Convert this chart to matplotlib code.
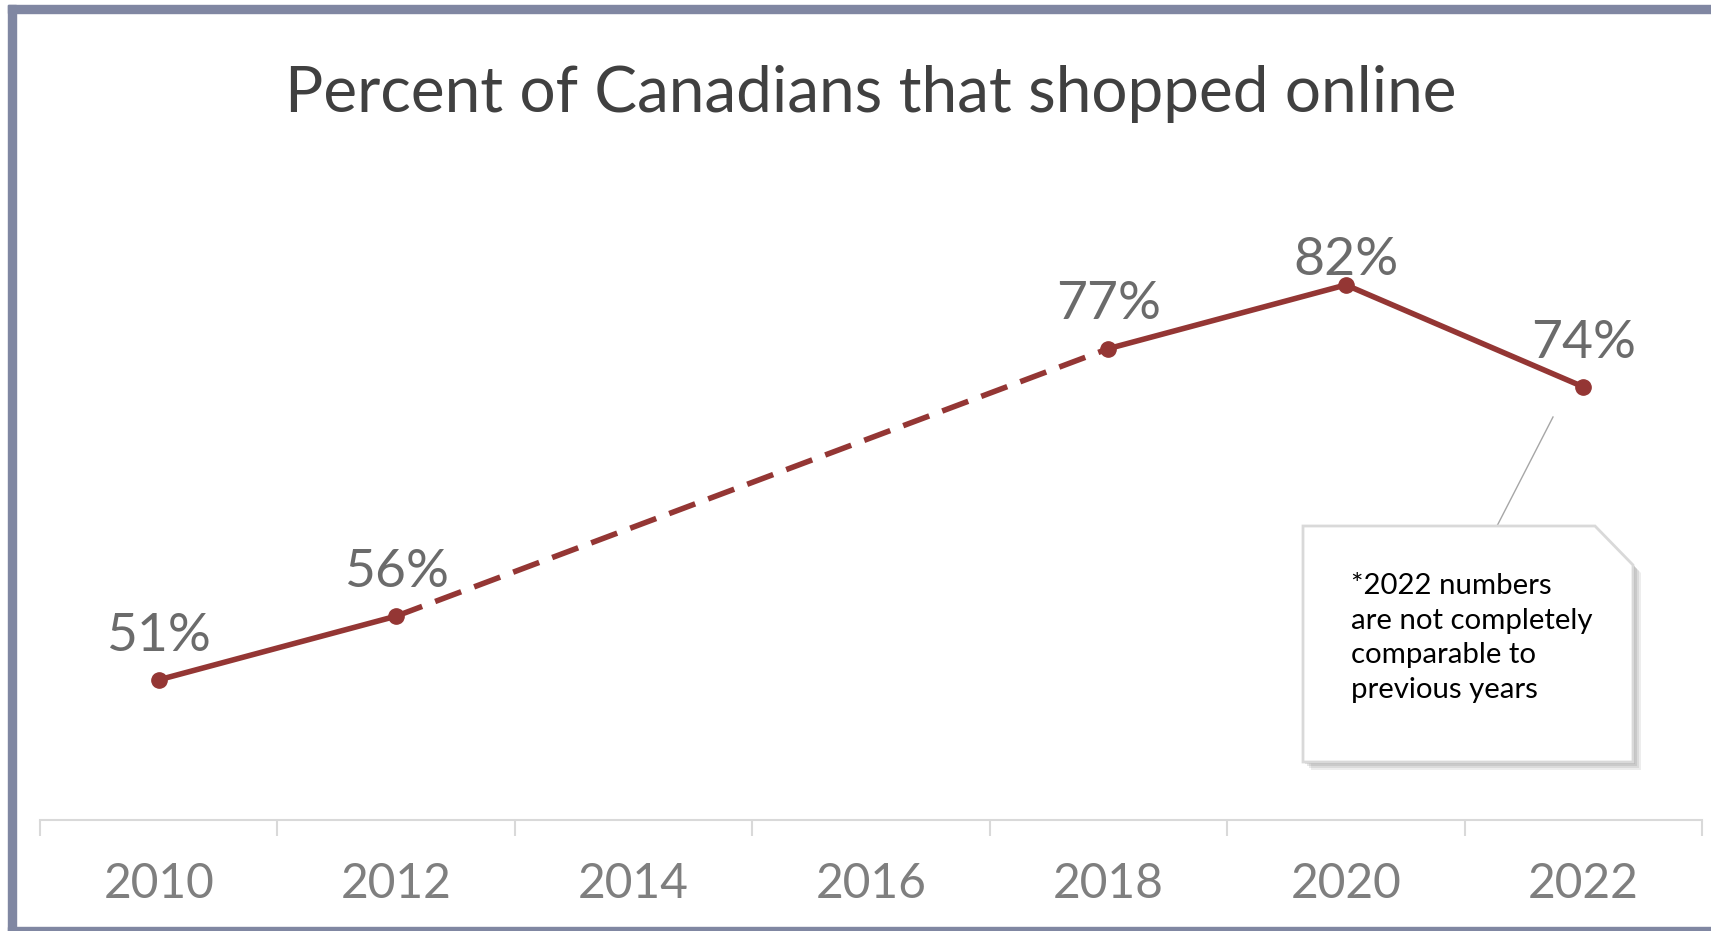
import matplotlib.pyplot as plt
from matplotlib.patches import Polygon, Rectangle
from matplotlib.lines import Line2D

plt.rcParams['font.family'] = ['Lato', 'DejaVu Sans']

# data
years = [2010, 2012, 2018, 2020, 2022]
share = [51, 56, 77, 82, 74]
axis_years = [2010, 2012, 2014, 2016, 2018, 2020, 2022]
label_offsets = [21, 21, 21, 7, 21]  # points above each marker

title = 'Percent of Canadians that shopped online'
note = '*2022 numbers\nare not completely\ncomparable to\nprevious years'

W, H = 1711, 931
red = '#943634'
grey_axis = '#d9d9d9'


def fx(x):
    return x / W


def fy(y):
    return 1 - y / H


fig = plt.figure(figsize=(W / 100, H / 100), dpi=100)
ax = fig.add_axes([fx(40), fy(820), fx(1702 - 40), (820 - 183) / H])

# solid / dashed segments
ax.plot(years[:2], share[:2], color=red, lw=4, solid_capstyle='round')
ax.plot(years[1:3], share[1:3], color=red, lw=4, linestyle=(0, (5, 2.5)))
ax.plot(years[2:], share[2:], color=red, lw=4, solid_capstyle='round')
ax.plot(years, share, 'o', color=red, markersize=11, zorder=3)

for x, v, off in zip(years, share, label_offsets):
    ax.annotate('%d%%' % v, (x, v), xytext=(0, off), textcoords='offset points',
                ha='center', va='baseline', fontsize=38.5, color='#6b6b6b')

ax.set_xlim(2009, 2023)
ax.set_ylim(40, 90)
ax.set_yticks([])
ax.set_xticks(axis_years)
ax.set_xticklabels([str(y) for y in axis_years])
ax.set_xticks([y - 1 for y in axis_years] + [2023], minor=True)
ax.tick_params(axis='x', which='major', length=0, pad=30, labelsize=34.5,
               labelcolor='#7f7f7f')
ax.tick_params(axis='x', which='minor', length=11.5, width=1.5,
               color=grey_axis)
for s in ['top', 'left', 'right']:
    ax.spines[s].set_visible(False)
ax.spines['bottom'].set_color(grey_axis)
ax.spines['bottom'].set_linewidth(1.5)

fig.text(fx(871), fy(112), title, ha='center', va='baseline',
         fontsize=46, color='#404040')

# frame around the chart
frame = '#8087a2'
fig.patches.append(Rectangle((fx(8), fy(13)), 1, 8 / H, transform=fig.transFigure,
                             color=frame, zorder=0))
fig.patches.append(Rectangle((fx(8), 0), 8 / W, 1 - 5 / H,
                             transform=fig.transFigure, color=frame, zorder=0))
fig.patches.append(Rectangle((fx(8), 0), 1, 4 / H, transform=fig.transFigure,
                             color=frame, zorder=0))

# callout note
box = [(1303, 526), (1595, 526), (1633, 565), (1633, 762), (1303, 762)]
for i, a in enumerate([0.12, 0.14, 0.16, 0.2]):
    d = 8 - 2 * i
    shadow = [(fx(x + d), fy(y + d)) for x, y in box]
    fig.patches.append(Polygon(shadow, closed=True, transform=fig.transFigure,
                               facecolor='#6f6f6f', edgecolor='none', alpha=a,
                               zorder=4))
fig.patches.append(Polygon([(fx(x), fy(y)) for x, y in box], closed=True,
                           transform=fig.transFigure, facecolor='white',
                           edgecolor=grey_axis, lw=2, zorder=5))
fig.lines.append(Line2D([fx(1497), fx(1553)], [fy(526), fy(417)],
                        transform=fig.transFigure, color='#a6a6a6', lw=1,
                        zorder=4))
fig.text(fx(1351), fy(573), note, ha='left', va='top', fontsize=21.2,
         color='black', linespacing=1.41, zorder=6)

fig.savefig('out.png', dpi=100)
